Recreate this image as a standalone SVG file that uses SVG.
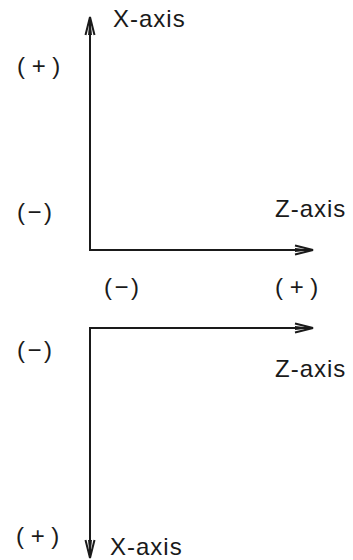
<svg xmlns="http://www.w3.org/2000/svg" width="353" height="560" viewBox="0 0 353 560">
<style>
text{font-family:"Liberation Sans",Arial,sans-serif;font-size:24px;fill:#1a1a1a}
.lb{letter-spacing:1px}
.ax{stroke:#1a1a1a;stroke-width:2;fill:none}
.sg{letter-spacing:2.5px}
</style>
<defs>
<marker id="ah" viewBox="0 0 20 12" refX="19" refY="6" markerWidth="20" markerHeight="12" markerUnits="userSpaceOnUse" orient="auto">
<path d="M1,1.5 L19,6 L1,10.5" fill="none" stroke="#1a1a1a" stroke-width="2" stroke-linejoin="miter"/>
<path d="M1,4 L19,6 L1,8 Z" fill="#1a1a1a"/>
</marker>
</defs>
<rect width="353" height="560" fill="#fff"/>
<g id="connectors">
<line class="ax" x1="90" y1="250" x2="90" y2="17" marker-end="url(#ah)"/>
<line class="ax" x1="89" y1="250" x2="313" y2="250" marker-end="url(#ah)"/>
<line class="ax" x1="89" y1="328" x2="313" y2="328" marker-end="url(#ah)"/>
<line class="ax" x1="90" y1="328" x2="90" y2="558" marker-end="url(#ah)"/>
</g>
<g id="top-x-label"><text class="lb" x="113" y="27">X-axis</text></g>
<g id="top-x-plus"><text x="17" y="74" xml:space="preserve">( + )</text></g>
<g id="top-x-minus"><text class="sg" x="17" y="220">(−)</text></g>
<g id="top-z-label"><text class="lb" x="275" y="217">Z-axis</text></g>
<g id="top-z-minus"><text class="sg" x="104" y="295">(−)</text></g>
<g id="top-z-plus"><text x="275" y="295" xml:space="preserve">( + )</text></g>
<g id="bot-x-minus"><text class="sg" x="17" y="358">(−)</text></g>
<g id="bot-z-label"><text class="lb" x="275" y="377">Z-axis</text></g>
<g id="bot-x-plus"><text x="16" y="544" xml:space="preserve">( + )</text></g>
<g id="bot-x-label"><text class="lb" x="110" y="555">X-axis</text></g>
</svg>
